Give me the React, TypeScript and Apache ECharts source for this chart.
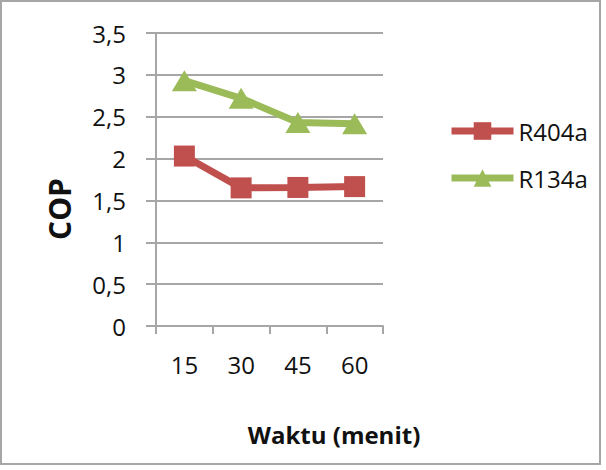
import React, { useEffect, useRef } from "react";
import * as echarts from "echarts";

const categories = ["15", "30", "45", "60"];
const r404a = [2.03, 1.65, 1.655, 1.665];
const r134a = [2.93, 2.72, 2.43, 2.415];
const yTicks = { min: 0, max: 3.5, interval: 0.5 };
const seriesNames = ["R404a", "R134a"];

const FONT = "'Open Sans', 'Noto Sans', sans-serif";
const GRID_COLOR = "#A6A6A6";
const TEXT_COLOR = "#111111";

export default function App() {
  const ref = useRef<HTMLDivElement>(null);
  useEffect(() => {
    if (!ref.current) return;
    const chart = echarts.init(ref.current, undefined, { renderer: "svg" });
    chart.setOption({
      animation: false,
      backgroundColor: "#ffffff",
      textStyle: { fontFamily: FONT },
      grid: { left: 156, top: 33, width: 227, height: 293, containLabel: false },
      xAxis: {
        type: "category",
        data: categories,
        boundaryGap: true,
        axisLine: { show: true, lineStyle: { color: GRID_COLOR, width: 2 } },
        axisTick: { show: true, length: 8, lineStyle: { color: GRID_COLOR, width: 2 } },
        axisLabel: { color: TEXT_COLOR, fontSize: 24, fontFamily: FONT, margin: 26 },
      },
      yAxis: {
        type: "value",
        min: yTicks.min,
        max: yTicks.max,
        interval: yTicks.interval,
        axisLine: { show: true, lineStyle: { color: GRID_COLOR, width: 2 } },
        axisTick: { show: true, length: 10, lineStyle: { color: GRID_COLOR, width: 2 } },
        splitLine: { show: true, lineStyle: { color: GRID_COLOR, width: 2 } },
        axisLabel: {
          color: TEXT_COLOR,
          fontSize: 24,
          fontFamily: FONT,
          margin: 30,
          formatter: (v: number) => String(v).replace(".", ","),
        },
      },
      legend: {
        orient: "vertical",
        left: 443,
        top: 114,
        itemWidth: 62,
        itemHeight: 22,
        itemGap: 23,
        data: seriesNames,
        lineStyle: { width: 7 },
        textStyle: { color: TEXT_COLOR, fontSize: 24, fontFamily: FONT },
      },
      graphic: [
        {
          type: "rect",
          shape: { x: 1, y: 1, width: 599, height: 463 },
          style: { fill: "none", stroke: GRID_COLOR, lineWidth: 2 },
          silent: true,
        },
        {
          type: "text",
          x: 334,
          y: 434,
          style: {
            text: "Waktu (menit)",
            fontFamily: FONT,
            fontWeight: "bold",
            fontSize: 24,
            fill: TEXT_COLOR,
            align: "center",
            verticalAlign: "middle",
          },
        },
        {
          type: "text",
          x: 59,
          y: 209,
          rotation: Math.PI / 2,
          style: {
            text: "COP",
            fontFamily: FONT,
            fontWeight: "bold",
            fontSize: 30,
            fill: TEXT_COLOR,
            align: "center",
            verticalAlign: "middle",
          },
        },
      ],
      series: [
        {
          name: seriesNames[0],
          type: "line",
          data: r404a,
          symbol: "rect",
          symbolSize: 21,
          lineStyle: { color: "#C0504D", width: 7 },
          itemStyle: { color: "#C0504D" },
        },
        {
          name: seriesNames[1],
          type: "line",
          data: r134a,
          symbol: "triangle",
          symbolSize: [25, 21],
          lineStyle: { color: "#9BBB59", width: 7 },
          itemStyle: { color: "#9BBB59" },
        },
      ],
    });
    return () => chart.dispose();
  }, []);
  return (
    <div
      ref={ref}
      style={{ position: "absolute", left: 0, top: 0, width: 606, height: 470, background: "#fff" }}
    />
  );
}
